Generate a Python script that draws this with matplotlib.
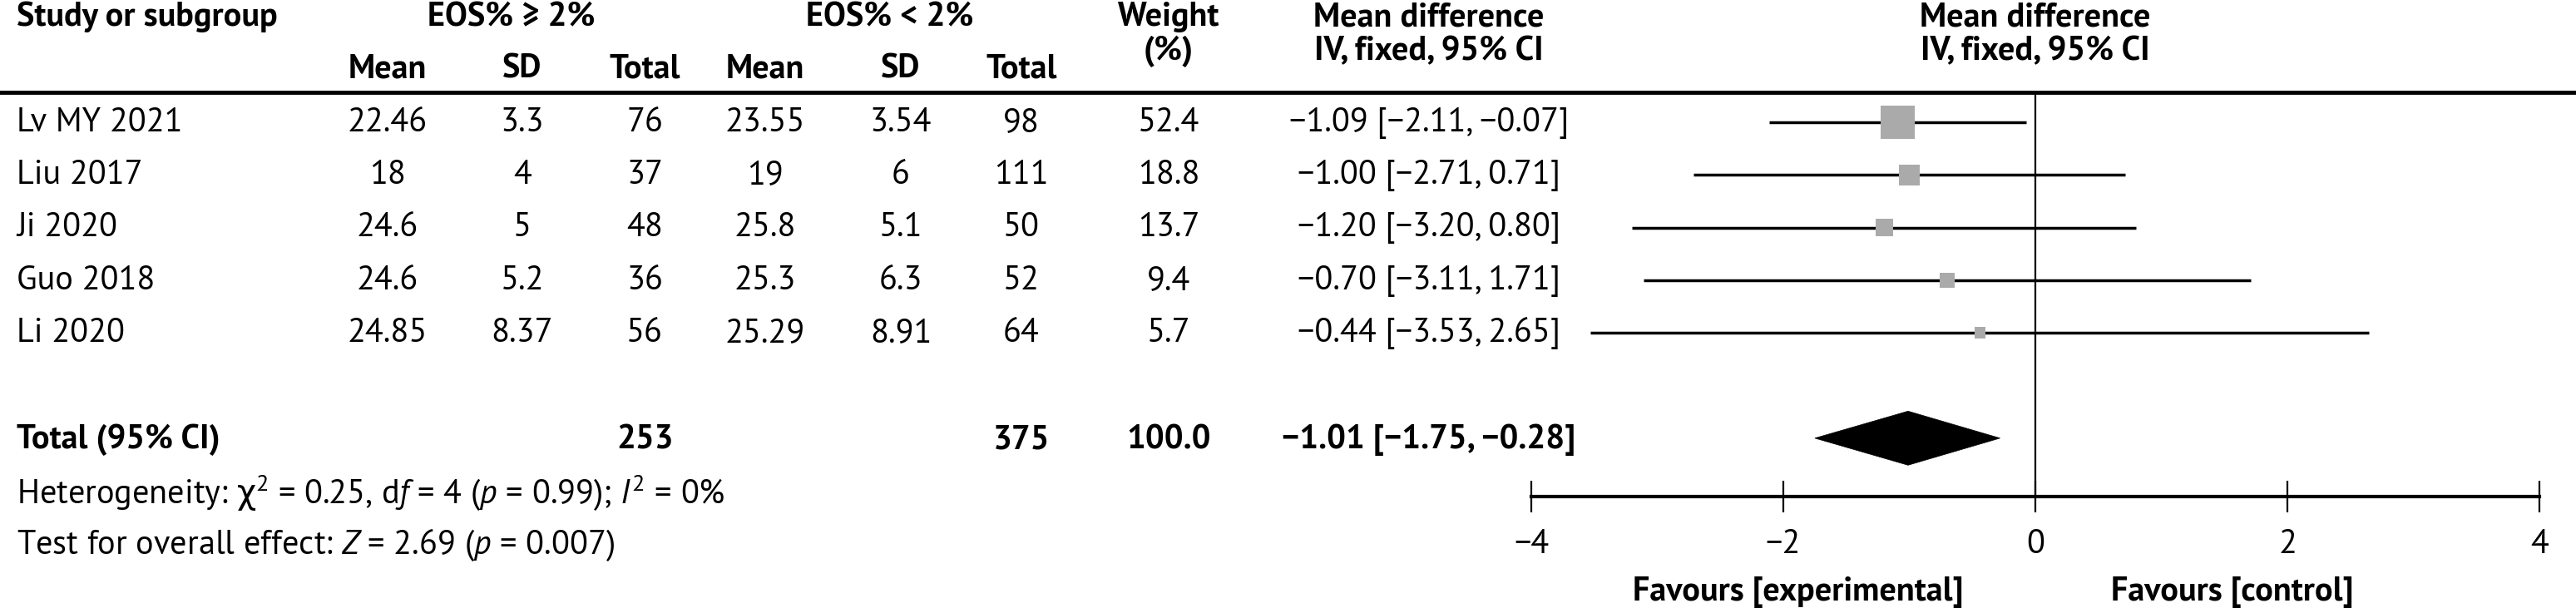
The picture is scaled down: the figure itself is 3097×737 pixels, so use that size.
import matplotlib
matplotlib.use("Agg")
import matplotlib.pyplot as plt
from matplotlib.patches import Polygon

# font: humanist sans close to the original
FONT = ['PT Sans', 'Fira Sans', 'Open Sans', 'DejaVu Sans']
plt.rcParams['font.family'] = FONT
plt.rcParams['mathtext.fontset'] = 'custom'
plt.rcParams['mathtext.rm'] = 'PT Sans'
plt.rcParams['mathtext.it'] = 'PT Sans:italic'
plt.rcParams['mathtext.bf'] = 'PT Sans:bold'
plt.rcParams['mathtext.sf'] = 'DejaVu Sans'   # only used for the chi
FS = 29

# data
studies = ['Lv MY 2021', 'Liu 2017', 'Ji 2020', 'Guo 2018', 'Li 2020']
mean_hi = [22.46, 18, 24.6, 24.6, 24.85]
sd_hi = [3.3, 4, 5, 5.2, 8.37]
n_hi = [76, 37, 48, 36, 56]
mean_lo = [23.55, 19, 25.8, 25.3, 25.29]
sd_lo = [3.54, 6, 5.1, 6.3, 8.91]
n_lo = [98, 111, 50, 52, 64]
weight = [52.4, 18.8, 13.7, 9.4, 5.7]
md = [-1.09, -1.00, -1.20, -0.70, -0.44]
ci_low = [-2.11, -2.71, -3.20, -3.11, -3.53]
ci_high = [-0.07, 0.71, 0.80, 1.71, 2.65]

total_n_hi = 253
total_n_lo = 375
total_weight = 100.0
total_md = -1.01
total_low = -1.75
total_high = -0.28

xticks = [-4, -2, 0, 2, 4]

W, H = 3097, 737
ROW0, STEP = 147, 63.3


def row(px):
    # pixel height from the top -> row units
    return (px - ROW0) / STEP


def fmt_ci(m, l, h):
    return f"{m:.2f} [{l:.2f}, {h:.2f}]".replace('-', '\u2212')


fig = plt.figure(figsize=(W / 100, H / 100), dpi=100)
fig.patch.set_facecolor('white')

tab = fig.add_axes([0, 0, 1, 1])
tab.set_xlim(0, W)
tab.set_ylim(row(H), row(0))
tab.axis('off')

fx0, fx1 = 1841, 3053
fp = fig.add_axes([fx0 / W, 0, (fx1 - fx0) / W, 1])
fp.set_xlim(-4, 4)
fp.set_ylim(row(H), row(0))
fp.patch.set_alpha(0)

# header
tab.axhline(row(111), color='black', lw=3.5)
hdr = dict(fontsize=FS, fontweight='bold', va='baseline')
tab.text(20, row(31), 'Study or subgroup', ha='left', **hdr)
tab.text(615, row(31), 'EOS% \u2265 2%', ha='center', **hdr)
tab.text(1070, row(31), 'EOS% < 2%', ha='center', **hdr)
col_x = [466, 628, 775, 920, 1083, 1228]
for x, lab in zip(col_x, ['Mean', 'SD', 'Total', 'Mean', 'SD', 'Total']):
    tab.text(x, row(93), lab, ha='center', **hdr)
tab.text(1405, row(31), 'Weight', ha='center', **hdr)
tab.text(1405, row(72), '(%)', ha='center', **hdr)
tab.text(1718, row(32), 'Mean difference', ha='center', **hdr)
tab.text(1718, row(72), 'IV, fixed, 95% CI', ha='center', **hdr)
fp.text(0, row(32), 'Mean difference', ha='center', **hdr)
fp.text(0, row(72), 'IV, fixed, 95% CI', ha='center', **hdr)

# study rows
body = dict(fontsize=FS, va='baseline')
rows = list(range(len(studies)))
for i in rows:
    yb = i + 0.17
    tab.text(20, yb, studies[i], ha='left', **body)
    vals = [mean_hi[i], sd_hi[i], n_hi[i], mean_lo[i], sd_lo[i], n_lo[i]]
    for x, v in zip(col_x, vals):
        tab.text(x, yb, str(v), ha='center', **body)
    tab.text(1405, yb, str(weight[i]), ha='center', **body)
    tab.text(1718, yb, fmt_ci(md[i], ci_low[i], ci_high[i]), ha='center', **body)

# total row
r_tot = 6
bold = dict(fontsize=FS, va='baseline', fontweight='bold')
tab.text(20, r_tot + 0.2, 'Total (95% CI)', ha='left', **bold)
tab.text(col_x[2], r_tot + 0.2, str(total_n_hi), ha='center', **bold)
tab.text(col_x[5], r_tot + 0.2, str(total_n_lo), ha='center', **bold)
tab.text(1405, r_tot + 0.2, str(total_weight), ha='center', **bold)
tab.text(1718, r_tot + 0.2, fmt_ci(total_md, total_low, total_high), ha='center', **bold)

tab.text(20, row(605),
         'Heterogeneity: $\\mathsf{\\chi}^2$ = 0.25, d$f$ = 4 ($p$ = 0.99); $I^2$ = 0%',
         ha='left', **body)
tab.text(20, row(666), 'Test for overall effect: $Z$ = 2.69 ($p$ = 0.007)', ha='left', **body)

# forest marks
axis_r = row(597)
fp.vlines(0, row(111), axis_r, color='black', lw=1.6, zorder=1)
fp.hlines(rows, ci_low, ci_high, color='black', lw=2.5, zorder=2)
fp.scatter(md, rows, s=[w * 16.6 for w in weight], marker='s', color='#aaaaaa',
           linewidths=0, zorder=3)
half = 0.513
diamond = Polygon([[total_low, r_tot], [total_md, r_tot - half],
                   [total_high, r_tot], [total_md, r_tot + half]],
                  closed=True, facecolor='black', edgecolor='black', lw=0.5, zorder=3)
fp.add_patch(diamond)

# x axis
for s in ['top', 'left', 'right']:
    fp.spines[s].set_visible(False)
fp.spines['bottom'].set_position(('data', axis_r))
fp.spines['bottom'].set_linewidth(3)
fp.set_yticks([])
fp.set_xticks(xticks)
fp.tick_params(axis='x', direction='inout', length=28, width=1.6, pad=14, labelsize=FS)

fp.text(-1.88, row(722), 'Favours [experimental]', ha='center', **bold)
fp.text(1.56, row(722), 'Favours [control]', ha='center', **bold)

fig.savefig('out.png', dpi=100, facecolor='white')
